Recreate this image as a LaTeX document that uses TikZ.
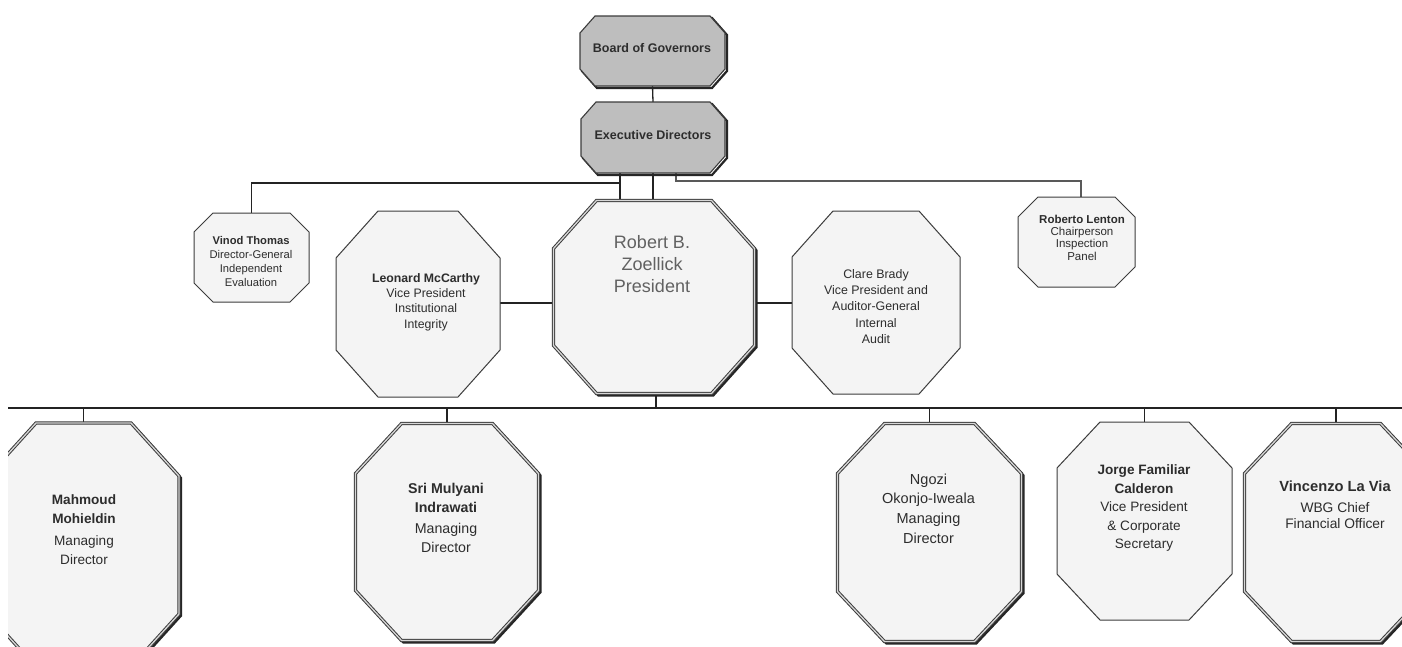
\documentclass[tikz,border=0pt]{standalone}
\usepackage{fontspec}
\setmainfont{Liberation Sans}
\usetikzlibrary{calc}

\definecolor{boardgray}{RGB}{190,190,190}
\definecolor{paper}{RGB}{244,244,244}
\definecolor{edgecol}{RGB}{60,60,60}
\definecolor{inkcol}{RGB}{45,45,45}
\definecolor{wirecol}{RGB}{35,35,35}
\definecolor{gapgray}{RGB}{215,215,215}

% octagon inscribed in the rectangle of node #1, corners cut by #2 (x) and #3 (y)
\newcommand\octpath[3]{($(#1.north west)+(#2,0)$) -- ($(#1.north east)+(-#2,0)$)
  -- ($(#1.north east)+(0,#3)$) -- ($(#1.south east)+(0,-#3)$)
  -- ($(#1.south east)+(-#2,0)$) -- ($(#1.south west)+(#2,0)$)
  -- ($(#1.south west)+(0,-#3)$) -- ($(#1.north west)+(0,#3)$) -- cycle}
\newcommand\fsz[2]{\fontsize{#1}{#2}\selectfont}

\tikzset{
  slot/.style={rectangle, inner sep=0pt, outer sep=0pt},
  wire/.style={draw=wirecol, line width=1.3pt},
  boxtext/.style={align=center, text=inkcol, inner sep=0pt},
  govshadow/.style={draw=black!85, line width=2.2pt, transform canvas={shift={(2,2)}}},
  govfill/.style={fill=boardgray, draw=edgecol, line width=1.1pt},
  plainbox/.style={fill=paper, draw=edgecol, line width=1pt},
  dblshadow/.style={draw=black!85, line width=2.4pt, transform canvas={shift={(1.8,1.8)}}},
  dblbox/.style={fill=paper, draw=edgecol, line width=1pt, double=gapgray, double distance=1.3pt},
}
\newcommand\govbox[3]{\draw[govshadow] \octpath{#1}{#2}{#3}; \draw[govfill] \octpath{#1}{#2}{#3};}
\newcommand\plainoct[3]{\draw[plainbox] \octpath{#1}{#2}{#3};}
\newcommand\dbloct[3]{\draw[dblshadow] \octpath{#1}{#2}{#3}; \draw[dblbox] \octpath{#1}{#2}{#3};}

\begin{document}
\begin{tikzpicture}[x=1pt, y=-1pt]
\fill[white] (0,0) rectangle (1402,646);
\useasboundingbox (0,0) rectangle (1402,646);
\clip (8,0) rectangle (1402,646);

% box frames
\node[slot, minimum width=145, minimum height=70]  (board)    at (652.5,51) {};
\node[slot, minimum width=144, minimum height=71]  (exec)     at (653,137.5) {};
\node[slot, minimum width=115, minimum height=89]  (vinod)    at (251.5,257.5) {};
\node[slot, minimum width=164, minimum height=186] (leonard)  at (418,304) {};
\node[slot, minimum width=201, minimum height=193] (robert)   at (654,297) {};
\node[slot, minimum width=168, minimum height=183] (clare)    at (876,302.5) {};
\node[slot, minimum width=117, minimum height=90]  (roberto)  at (1076.5,242) {};
\node[slot, minimum width=191, minimum height=244] (mahmoud)  at (83.5,545) {};
\node[slot, minimum width=183, minimum height=217] (sri)      at (447,532) {};
\node[slot, minimum width=184, minimum height=218] (ngozi)    at (929.5,532.5) {};
\node[slot, minimum width=175, minimum height=198] (jorge)    at (1144.5,521) {};
\node[slot, minimum width=183, minimum height=218] (vincenzo) at (1336,532.5) {};

% connector coordinates
\coordinate (busL) at (8,408);
\coordinate (busR) at (1402,408);
\coordinate (vinodtap) at (620,183);
\coordinate (panelbend) at (676,181);
\coordinate (panelturn) at (1081,181);
\coordinate (midrow) at (0,303);
\coordinate (presdrop) at (656,408);

% connectors
\draw[wire] (board.south) -- (exec.north);
\draw[wire] (exec.south) -- (exec.south |- robert.north);
\draw[wire] (exec.south -| vinodtap) -- (robert.north -| vinodtap);
\draw[wire] (vinodtap) -| (vinod.north);
\draw[wire, draw=black!65] (exec.south -| panelbend) -- (panelbend) -- (panelturn) -- (panelturn |- roberto.north);
\draw[wire] (leonard.east |- midrow) -- (robert.west |- midrow);
\draw[wire] (robert.east |- midrow) -- (clare.west |- midrow);
\draw[wire] (robert.south -| presdrop) -- (presdrop);
\draw[wire] (busL) -- (busR);
\draw[wire] (mahmoud.north |- busL) -- (mahmoud.north);
\draw[wire] (sri.north |- busL) -- (sri.north);
\draw[wire] (ngozi.north |- busL) -- (ngozi.north);
\draw[wire] (jorge.north |- busL) -- (jorge.north);
\draw[wire] (vincenzo.north |- busL) -- (vincenzo.north);

% octagons
\govbox{board}{15}{17}
\govbox{exec}{15}{17}
\plainoct{vinod}{19}{19}
\plainoct{leonard}{42}{47}
\dbloct{robert}{43}{48}
\plainoct{clare}{41}{46}
\plainoct{roberto}{20}{20}
\dbloct{mahmoud}{48}{53}
\dbloct{sri}{46}{50}
\dbloct{ngozi}{47}{50}
\plainoct{jorge}{43}{46}
\dbloct{vincenzo}{47}{50}

% texts
\node[boxtext, font=\fsz{12.5}{14}\bfseries] (board-t) at (652,48) {Board of Governors};
\node[boxtext, font=\fsz{12.5}{14}\bfseries] (exec-t) at (653,135) {Executive Directors};
\node[boxtext, font=\fsz{11.2}{14.3}] (vinod-t) at (251,261.5)
  {\textbf{Vinod Thomas}\\Director-General\\Independent\\Evaluation};
\node[boxtext, font=\fsz{12.3}{15.3}] (leonard-t) at (426,302)
  {\textbf{Leonard McCarthy}\\Vice President\\Institutional\\Integrity};
\node[boxtext, font=\fsz{18}{22.2}, text=black!62] (robert-t) at (652,264)
  {Robert B.\\Zoellick\\President};
\node[boxtext, font=\fsz{12.4}{16.25}] (clare-t) at (876,306.5)
  {Clare Brady\\Vice President and\\Auditor-General\\Internal\\Audit};
\node[boxtext, font=\fsz{11.5}{12.3}] (roberto-t) at (1082,237.5)
  {\textbf{Roberto Lenton}\\Chairperson\\Inspection\\Panel};
\node[boxtext, font=\fsz{13.6}{18.5}] (mahmoud-t) at (84,529.5)
  {\textbf{Mahmoud}\\\textbf{Mohieldin}\\[4pt]Managing\\Director};
\node[boxtext, font=\fsz{14.2}{18.7}] (sri-t) at (446,518)
  {\textbf{Sri Mulyani}\\\textbf{Indrawati}\\[2.5pt]Managing\\Director};
\node[boxtext, font=\fsz{14.5}{19.7}] (ngozi-t) at (928.5,508.5)
  {Ngozi\\Okonjo-Iweala\\Managing\\Director};
\node[boxtext, font=\fsz{13.6}{18.5}] (jorge-t) at (1144,508)
  {\textbf{Jorge Familiar}\\\textbf{Calderon}\\Vice President\\\& Corporate\\Secretary};
\node[boxtext, font=\fsz{13.8}{16}] (vincenzo-t) at (1335,504.5)
  {{\fsz{14.7}{16}\bfseries Vincenzo La Via}\\[5pt]WBG Chief\\Financial Officer};
\end{tikzpicture}
\end{document}
